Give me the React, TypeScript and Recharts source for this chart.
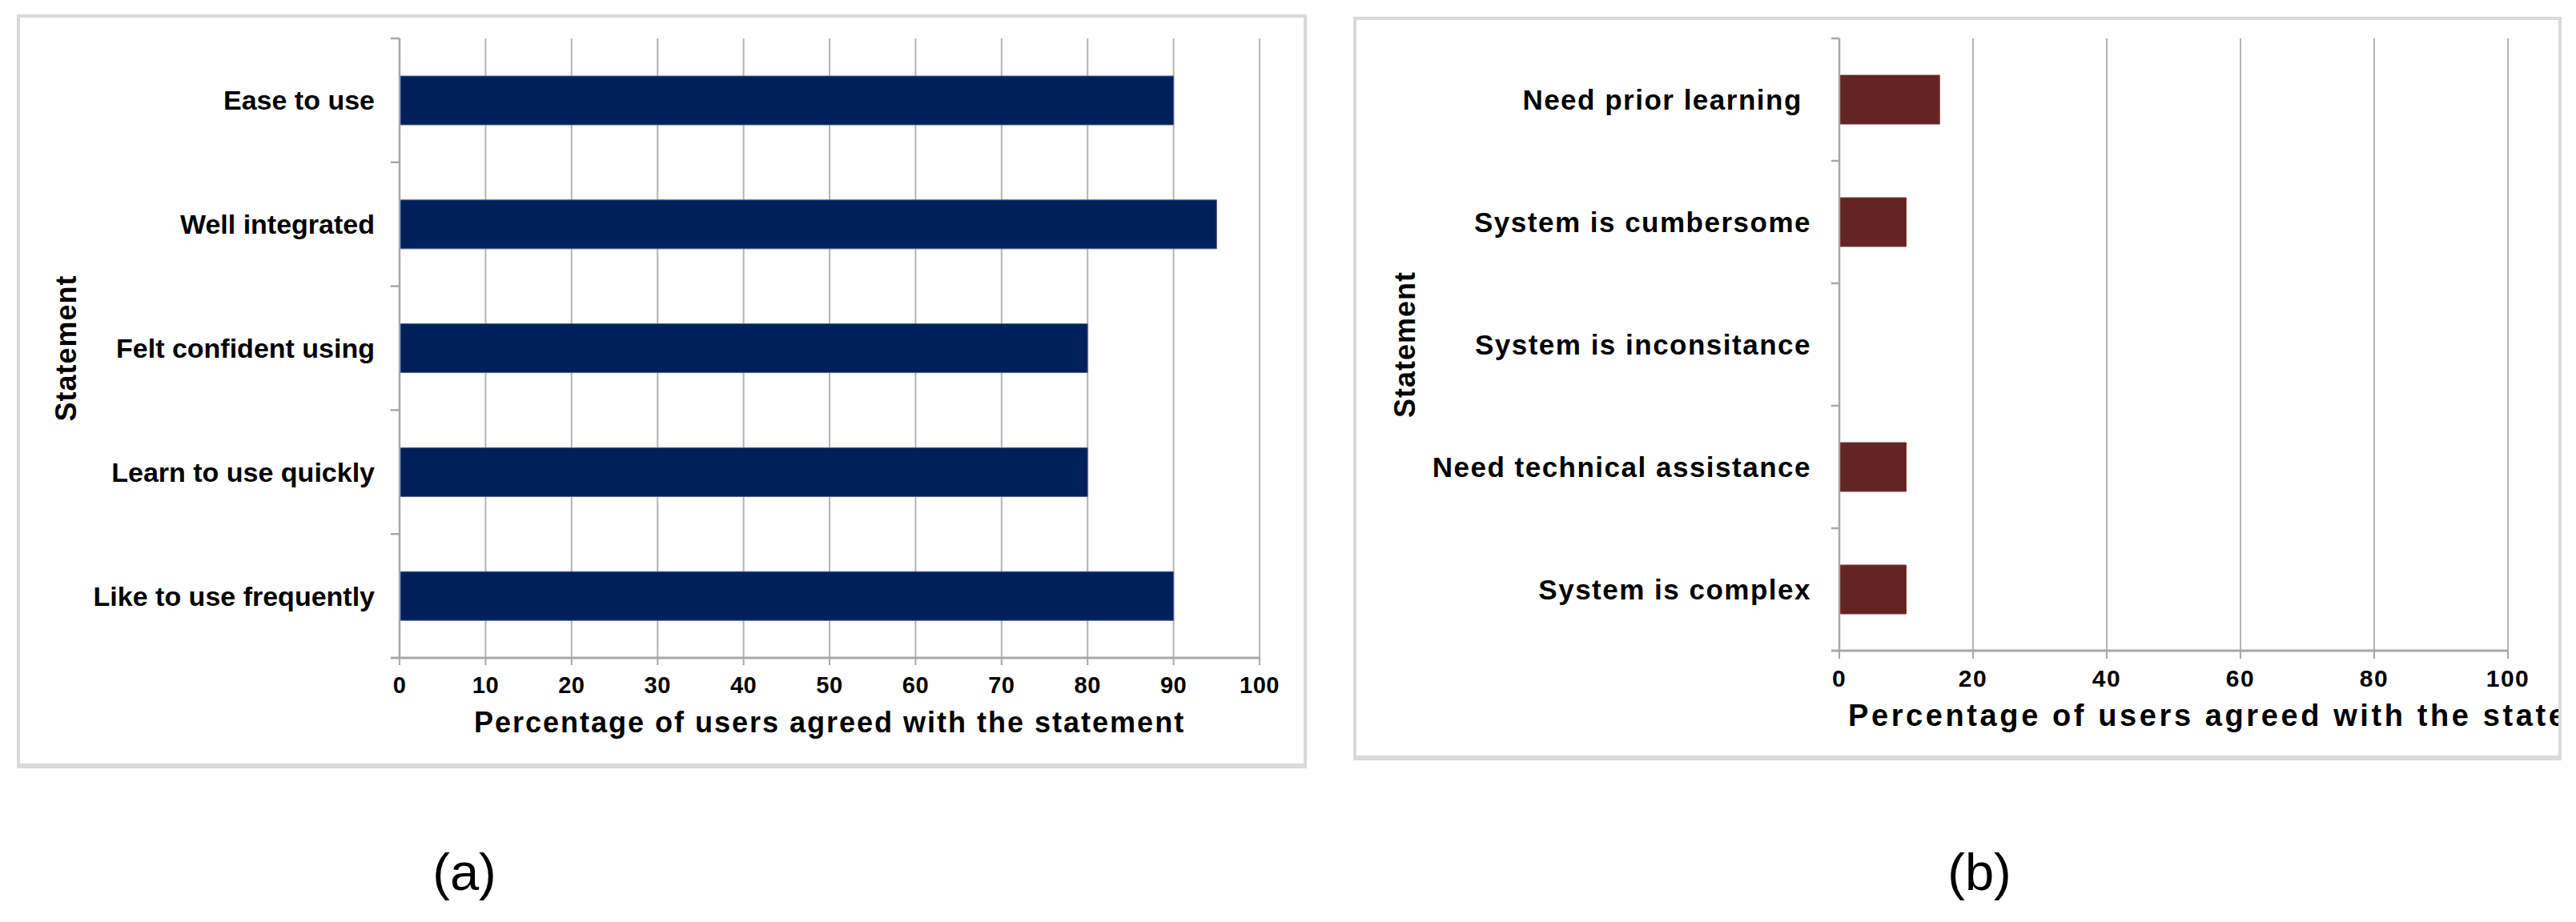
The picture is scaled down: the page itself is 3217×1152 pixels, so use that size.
import React from "react";
import { BarChart, Bar, XAxis, YAxis, CartesianGrid, Label } from "recharts";

// ---------- data ----------
const positiveStatements = [
  "Ease to use",
  "Well integrated",
  "Felt confident using",
  "Learn to use quickly",
  "Like to use frequently",
];
const positiveValues = [90, 95, 80, 80, 90];
const positiveTicks = [0, 10, 20, 30, 40, 50, 60, 70, 80, 90, 100];

const negativeStatements = [
  "Need prior learning ",
  "System is cumbersome",
  "System is inconsitance",
  "Need technical assistance",
  "System is complex",
];
const negativeValues = [15, 10, 0, 10, 10];
const negativeTicks = [0, 20, 40, 60, 80, 100];

const xTitle = "Percentage of users agreed with the statement";
const yTitle = "Statement";
const panelLabels = ["(a)", "(b)"];

const dataA = positiveStatements.map((name, i) => ({ name, value: positiveValues[i] }));
const dataB = negativeStatements.map((name, i) => ({ name, value: negativeValues[i] }));

// ---------- styles ----------
const FONT = "'Liberation Sans', Arial, Helvetica, sans-serif";
const AXIS_GRAY = "#a8a8a8";
const GRID_GRAY = "#b4b4b4";

type TickOpts = { fontSize: number; spacing: number; margin: number; len: number };

const makeCatTick = (o: TickOpts) => (props: any) => {
  const { x, y, payload, index, visibleTicksCount } = props;
  const axisX = x + o.margin;
  const off = payload && typeof payload.offset === "number" ? payload.offset : 0;
  const last = index === (visibleTicksCount ?? 0) - 1;
  return (
    <g>
      {off > 0 && (
        <line x1={axisX - o.len} x2={axisX} y1={y - off} y2={y - off} stroke={AXIS_GRAY} strokeWidth={2.5} />
      )}
      {off > 0 && last && (
        <line x1={axisX - o.len} x2={axisX} y1={y + off} y2={y + off} stroke={AXIS_GRAY} strokeWidth={3} />
      )}
      <text
        x={x}
        y={y}
        dy="0.355em"
        textAnchor="end"
        xmlSpace="preserve"
        style={{ whiteSpace: "pre" }}
        fontFamily={FONT}
        fontWeight="bold"
        fontSize={o.fontSize}
        letterSpacing={o.spacing}
        fill="#000"
      >
        {payload.value}
      </text>
    </g>
  );
};

const makeNumTick = (fontSize: number, spacing: number) => (props: any) => {
  const { x, y, payload } = props;
  return (
    <text
      x={x}
      y={y}
      dy="0.71em"
      textAnchor="middle"
      fontFamily={FONT}
      fontWeight="bold"
      fontSize={fontSize}
      letterSpacing={spacing}
      fill="#000"
    >
      {payload.value}
    </text>
  );
};

const makeXTitle = (fontSize: number, spacing: number, anchor: "middle" | "start", dx: number, dy: number) =>
  (props: any) => {
    const vb = props.viewBox || {};
    const x = anchor === "middle" ? vb.x + vb.width / 2 : vb.x + dx;
    return (
      <text
        x={x}
        y={vb.y + dy}
        textAnchor={anchor}
        fontFamily={FONT}
        fontWeight="bold"
        fontSize={fontSize}
        letterSpacing={spacing}
        fill="#000"
      >
        {xTitle}
      </text>
    );
  };

const makeYTitle = (cx: number) => (props: any) => {
  const vb = props.viewBox || {};
  const x = vb.x + cx;
  const y = vb.y + vb.height / 2;
  return (
    <text
      x={x}
      y={y}
      dy="0.355em"
      textAnchor="middle"
      transform={`rotate(-90, ${x}, ${y})`}
      fontFamily={FONT}
      fontWeight="bold"
      fontSize={36}
      letterSpacing={1}
      fill="#000"
    >
      {yTitle}
    </text>
  );
};

const panelStyle = (left: number, top: number, width: number, height: number): React.CSSProperties => ({
  position: "absolute",
  left,
  top,
  width,
  height,
  boxSizing: "border-box",
  border: "4px solid #d9d9d9",
  borderBottomWidth: 6,
  overflow: "hidden",
  background: "#fff",
});

const captionStyle = (cx: number): React.CSSProperties => ({
  position: "absolute",
  left: cx - 100,
  width: 200,
  top: 1050,
  textAlign: "center",
  fontFamily: FONT,
  fontSize: 65,
  lineHeight: "80px",
  color: "#000",
});

export default function App() {
  return (
    <div
      style={{
        position: "absolute",
        left: 0,
        top: 0,
        width: 3217,
        height: 1152,
        background: "#fff",
        overflow: "hidden",
      }}
    >
      {/* Panel (a) */}
      <div style={panelStyle(21, 18, 1611, 942)}>
        <BarChart
          width={1603}
          height={932}
          data={dataA}
          layout="vertical"
          margin={{ top: 26, right: 55, bottom: 22, left: 0 }}
          barSize={61}
        >
          <CartesianGrid horizontal={false} vertical={true} stroke={GRID_GRAY} strokeWidth={2} />
          <XAxis
            type="number"
            domain={[0, 100]}
            ticks={positiveTicks}
            interval={0}
            height={110}
            axisLine={{ stroke: AXIS_GRAY, strokeWidth: 3 }}
            tickLine={{ stroke: AXIS_GRAY, strokeWidth: 2 }}
            tickSize={9}
            tickMargin={14}
            tick={makeNumTick(29, 0.5)}
          >
            <Label content={makeXTitle(36, 2, "middle", 0, 93)} />
          </XAxis>
          <YAxis
            type="category"
            dataKey="name"
            width={474}
            interval={0}
            axisLine={{ stroke: AXIS_GRAY, strokeWidth: 2.5 }}
            tickLine={false}
            tickSize={0}
            tickMargin={31}
            tick={makeCatTick({ fontSize: 34, spacing: 0, margin: 31, len: 11 })}
          >
            <Label content={makeYTitle(57)} />
          </YAxis>
          <Bar dataKey="value" fill="#00205c" stroke="#4f6190" strokeWidth={1} isAnimationActive={false} />
        </BarChart>
      </div>

      {/* Panel (b) */}
      <div style={panelStyle(1690, 21, 1509, 929)}>
        <BarChart
          width={1700}
          height={919}
          data={dataB}
          layout="vertical"
          margin={{ top: 23, right: 262, bottom: 21, left: 0 }}
          barSize={61}
        >
          <CartesianGrid horizontal={false} vertical={true} stroke={GRID_GRAY} strokeWidth={2} />
          <XAxis
            type="number"
            domain={[0, 100]}
            ticks={negativeTicks}
            interval={0}
            height={110}
            axisLine={{ stroke: AXIS_GRAY, strokeWidth: 3 }}
            tickLine={{ stroke: AXIS_GRAY, strokeWidth: 2 }}
            tickSize={10}
            tickMargin={14}
            tick={makeNumTick(30, 1.5)}
          >
            <Label content={makeXTitle(38, 3.6, "start", 11, 94)} />
          </XAxis>
          <YAxis
            type="category"
            dataKey="name"
            width={603}
            interval={0}
            axisLine={{ stroke: AXIS_GRAY, strokeWidth: 2.5 }}
            tickLine={false}
            tickSize={0}
            tickMargin={35}
            tick={makeCatTick({ fontSize: 35, spacing: 1.5, margin: 35, len: 10 })}
          >
            <Label content={makeYTitle(60)} />
          </YAxis>
          <Bar dataKey="value" fill="#632423" stroke="#7a3a38" strokeWidth={1} isAnimationActive={false} />
        </BarChart>
      </div>

      <div style={captionStyle(580)}>{panelLabels[0]}</div>
      <div style={captionStyle(2472)}>{panelLabels[1]}</div>
    </div>
  );
}
